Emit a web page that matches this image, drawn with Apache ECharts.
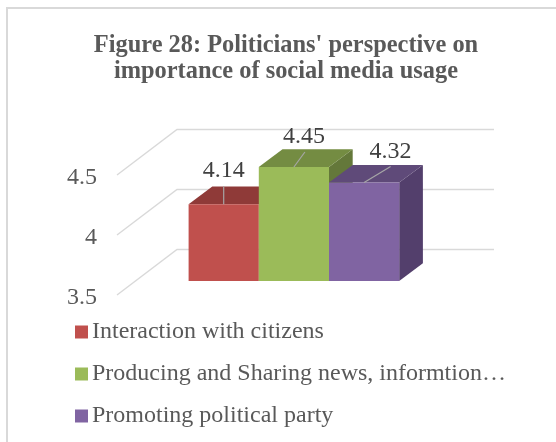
<!DOCTYPE html>
<html><head><meta charset="utf-8">
<style>html,body{margin:0;padding:0;background:#fff}#c{width:556px;height:442px}</style>
<script src="https://cdn.jsdelivr.net/npm/echarts@6/dist/echarts.min.js"></script>
</head><body><div id="c"></div>
<script>
const titleText = "Figure 28: Politicians' perspective on\nimportance of social media usage";
const category = ['Politicians'];
const seriesNames = ['Interaction with citizens', 'Producing and Sharing news, informtion…', 'Promoting political party'];
const seriesValues = [4.14, 4.45, 4.32];
const tickValues = [3.5, 4, 4.5];
const frontColors = ['#C0504D', '#9BBB59', '#8064A2'];
const topColors = ['#8F3A38', '#748C42', '#5F4A79'];
const sideColors = ['#8F3A38', '#64783A', '#533F6C'];
const labelOffsets = [[0, -33.5], [10, -30.5], [26.5, -31]];
const leaderEnds = [[0, -18], [11, -15], [26.5, -16]];

const SERIF = '"Liberation Serif","Times New Roman",serif';
const WALL = {dx: 60, dy: -45.5};      // full depth of the 3D box
const BAR_INSET = {dx: 18.4, dy: -14}; // bars stand part way into the depth
const BAR_DEPTH = {dx: 23.7, dy: -17.7};
const BAR_W = 70.2;

const chart = echarts.init(document.getElementById('c'), null, {renderer: 'canvas'});

function poly(points, color, z2) {
  return {type: 'polygon', shape: {points}, style: {fill: color}, z2: z2 || 0};
}
function renderBar(params, api) {
  const i = params.seriesIndex;
  const base = api.coord([0, tickValues[0]]);
  const top = api.coord([0, api.value(1)]);
  const x0 = base[0] + BAR_INSET.dx + (i - 1.5) * BAR_W;
  const x1 = x0 + BAR_W;
  const yb = base[1] + BAR_INSET.dy;
  const yt = top[1] + BAR_INSET.dy;
  const d = BAR_DEPTH;
  const cx = (x0 + x1) / 2;
  return {type: 'group', children: [
    poly([[x1, yb], [x1 + d.dx, yb + d.dy], [x1 + d.dx, yt + d.dy], [x1, yt]], sideColors[i]),
    poly([[x0, yt], [x0 + d.dx, yt + d.dy], [x1 + d.dx, yt + d.dy], [x1, yt]], topColors[i]),
    poly([[x0, yb], [x1, yb], [x1, yt], [x0, yt]], frontColors[i]),
    {type: 'line', shape: {x1: cx, y1: yt, x2: cx + leaderEnds[i][0], y2: yt + leaderEnds[i][1]},
      style: {stroke: '#A6A6A6', lineWidth: 1.2}},
    {type: 'text', x: cx + labelOffsets[i][0], y: yt + labelOffsets[i][1],
      style: {text: api.value(1).toFixed(2), fill: '#404040', font: '24px ' + SERIF, align: 'center', verticalAlign: 'middle'}}
  ]};
}
function renderWall(params, api) {
  const left = api.coord([0, api.value(1)]);
  const rect = params.coordSys;
  const fx = rect.x, y = left[1];
  const bx = fx + WALL.dx, by = y + WALL.dy;
  return {type: 'polyline', shape: {points: [[fx, y], [bx, by], [bx + rect.width, by]]},
    style: {stroke: '#D9D9D9', lineWidth: 1.4, fill: null}};
}

chart.setOption({
  animation: false,
  backgroundColor: '#fff',
  title: {text: titleText, left: 281, top: 28, textAlign: 'center',
    textStyle: {fontFamily: SERIF, fontSize: 24.4, fontWeight: 'bold', color: '#595959', lineHeight: 26}},
  grid: {left: 117, top: 175, width: 317, height: 120},
  xAxis: {type: 'category', data: category, show: false},
  yAxis: {type: 'value', min: 3.5, max: 4.5, interval: 0.5,
    axisLine: {show: false}, axisTick: {show: false}, splitLine: {show: false},
    axisLabel: {margin: 20, color: '#595959', formatter: v => '{t|' + v + '}',
      rich: {t: {fontFamily: SERIF, fontSize: 24, color: '#595959', padding: [5, 0, 0, 0]}}}},
  legend: {orient: 'vertical', left: 70, top: 315, itemWidth: 13, itemHeight: 13, itemGap: 18, icon: 'rect',
    data: seriesNames, selectedMode: false,
    textStyle: {fontFamily: SERIF, fontSize: 24, color: '#595959', lineHeight: 24, padding: [0, 0, 0, -1]}},
  graphic: [{type: 'rect', silent: true, z: -10, shape: {x: 7, y: 8, width: 600, height: 500},
    style: {fill: '#fff', stroke: '#D9D9D9', lineWidth: 2}}],
  series: seriesNames.map((name, i) => ({
    name, type: 'custom', coordinateSystem: 'cartesian2d', z: 3, renderItem: renderBar,
    itemStyle: {color: frontColors[i]}, encode: {x: 0, y: 1},
    data: [[0, seriesValues[i]]]
  })).concat([{
    name: 'walls', type: 'custom', coordinateSystem: 'cartesian2d', z: 1, silent: true, renderItem: renderWall,
    encode: {x: 0, y: 1}, data: tickValues.map(t => [0, t])
  }])
});
</script></body></html>
